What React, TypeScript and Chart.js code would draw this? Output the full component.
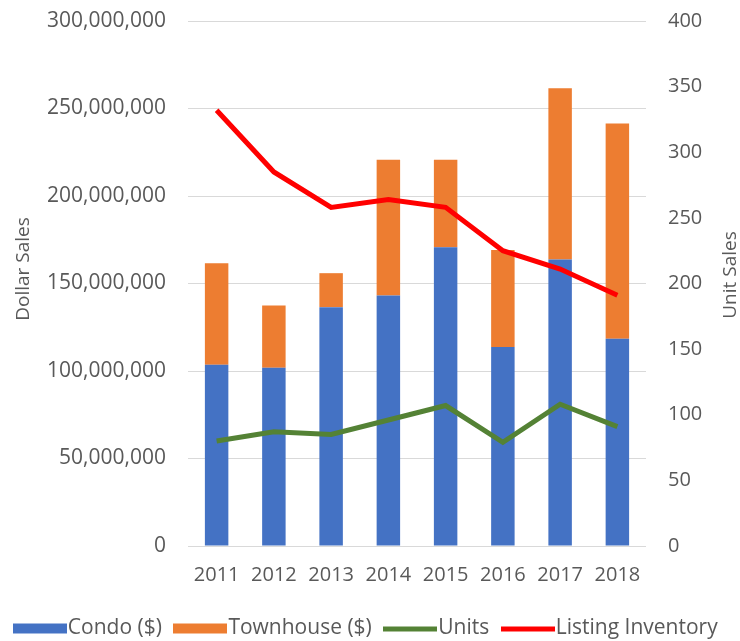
import React, { useEffect, useRef } from 'react';
import { Chart, registerables } from 'chart.js';

Chart.register(...registerables);

const years = ['2011', '2012', '2013', '2014', '2015', '2016', '2017', '2018'];
const condo = [103.6e6, 101.9e6, 136.5e6, 143.2e6, 170.7e6, 113.7e6, 163.7e6, 118.5e6];
const townhouse = [58.0e6, 35.6e6, 19.4e6, 77.5e6, 50.0e6, 55.5e6, 97.9e6, 122.9e6];
const units = [80, 87, 85, 96, 107, 79, 108, 91];
const listing = [332, 285, 258, 264, 258, 225, 211, 191];

const seriesNames = ['Condo ($)', 'Townhouse ($)', 'Units', 'Listing Inventory'];
const colors = ['#4472C4', '#ED7D31', '#548235', '#FF0000'];
const leftTitle = 'Dollar Sales';
const rightTitleText = 'Unit Sales';

const FONT = "'Open Sans', sans-serif";
const TEXT = '#595959';

function makeSwatch(color: string, kind: 'box' | 'line') {
  const c = document.createElement('canvas');
  c.width = 54;
  c.height = 12;
  const g = c.getContext('2d')!;
  g.fillStyle = color;
  if (kind === 'box') g.fillRect(0, 1, 54, 10);
  else g.fillRect(0, 4, 54, 5);
  return c;
}

export default function App() {
  const ref = useRef<HTMLCanvasElement>(null);

  useEffect(() => {
    if (!ref.current) return;
    const swatches = [
      makeSwatch(colors[0], 'box'),
      makeSwatch(colors[1], 'box'),
      makeSwatch(colors[2], 'line'),
      makeSwatch(colors[3], 'line'),
    ];

    const axisTitles = {
      id: 'axisTitles',
      afterDraw(chart: any) {
        const ctx = chart.ctx;
        ctx.save();
        ctx.font = `19px ${FONT}`;
        ctx.fillStyle = TEXT;
        ctx.textAlign = 'center';
        ctx.textBaseline = 'middle';
        ctx.save();
        ctx.translate(24, 269);
        ctx.rotate(-Math.PI / 2);
        ctx.fillText(leftTitle, 0, 0);
        ctx.restore();
        ctx.save();
        ctx.translate(731, 275);
        ctx.rotate(-Math.PI / 2);
        ctx.fillText(rightTitleText, 0, 0);
        ctx.restore();
        ctx.restore();
      },
    };

    const chart = new Chart(ref.current, {
      type: 'bar',
      data: {
        labels: years,
        datasets: [
          {
            type: 'bar',
            label: seriesNames[0],
            data: condo,
            backgroundColor: colors[0],
            yAxisID: 'y',
            stack: 's',
            order: 2,
            barPercentage: 0.41,
            categoryPercentage: 1,
          },
          {
            type: 'bar',
            label: seriesNames[1],
            data: townhouse,
            backgroundColor: colors[1],
            yAxisID: 'y',
            stack: 's',
            order: 2,
            barPercentage: 0.41,
            categoryPercentage: 1,
          },
          {
            type: 'line',
            label: seriesNames[2],
            data: units,
            borderColor: colors[2],
            backgroundColor: colors[2],
            borderWidth: 5,
            pointRadius: 0,
            tension: 0,
            yAxisID: 'y1',
            order: 1,
          },
          {
            type: 'line',
            label: seriesNames[3],
            data: listing,
            borderColor: colors[3],
            backgroundColor: colors[3],
            borderWidth: 5,
            pointRadius: 0,
            tension: 0,
            yAxisID: 'y1',
            order: 0,
          },
        ] as any,
      },
      options: {
        responsive: false,
        animation: false,
        layout: { autoPadding: false, padding: { top: 21, left: 0, right: 0, bottom: -8 } },
        plugins: {
          tooltip: { enabled: false },
          legend: {
            position: 'bottom',
            labels: {
              usePointStyle: true,
              pointStyleWidth: 35,
              padding: 21,
              color: TEXT,
              font: { family: FONT, size: 21 },
              generateLabels: () =>
                seriesNames.map((name, i) => ({
                  text: name,
                  pointStyle: swatches[i] as any,
                  fillStyle: colors[i],
                  strokeStyle: 'transparent',
                  lineWidth: 0,
                  hidden: false,
                  datasetIndex: i,
                  fontColor: TEXT,
                })),
            },
          },
        },
        scales: {
          x: {
            stacked: true,
            grid: { display: false, drawTicks: false },
            border: { display: false },
            ticks: { color: TEXT, font: { family: FONT, size: 20 }, padding: 17 },
            afterFit: (s: any) => {
              s.height = 51;
              s.paddingLeft = 0;
              s.paddingRight = 0;
            },
          },
          y: {
            position: 'left',
            stacked: true,
            min: 0,
            max: 300000000,
            ticks: {
              stepSize: 50000000,
              color: TEXT,
              font: { family: FONT, size: 21 },
              padding: 22,
              callback: (v: any) => Number(v).toLocaleString('en-US'),
            },
            grid: { color: '#d9d9d9', lineWidth: 1, drawTicks: false },
            border: { display: false },
            afterFit: (s: any) => {
              s.width = 188;
              s.paddingTop = 0;
              s.paddingBottom = 0;
            },
          },
          y1: {
            position: 'right',
            min: 0,
            max: 400,
            ticks: {
              stepSize: 50,
              color: TEXT,
              font: { family: FONT, size: 20 },
              padding: 22,
            },
            grid: { display: false, drawTicks: false },
            border: { display: false },
            afterFit: (s: any) => {
              s.width = 94;
              s.paddingTop = 0;
              s.paddingBottom = 0;
            },
          },
        },
      },
      plugins: [axisTitles],
    } as any);

    return () => chart.destroy();
  }, []);

  return (
    <div style={{ position: 'fixed', left: 0, top: 0, width: 740, height: 641, background: '#fff' }}>
      <canvas ref={ref} width={740} height={641} style={{ display: 'block' }} />
    </div>
  );
}
